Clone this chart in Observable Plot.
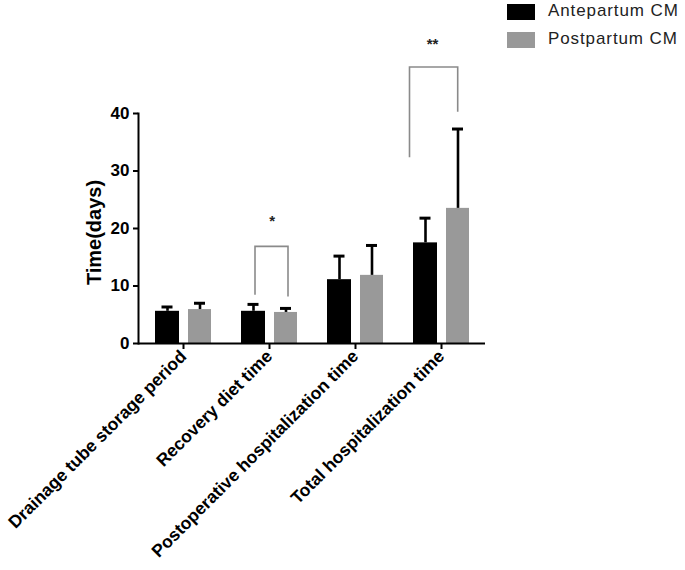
<!DOCTYPE html>
<html>
<head>
<meta charset="utf-8">
<script src="https://cdn.jsdelivr.net/npm/d3@7"></script>
<script src="https://cdn.jsdelivr.net/npm/@observablehq/plot@0.6"></script>
<style>
  html, body { margin: 0; padding: 0; background: #fff; }
  #wrap { position: relative; width: 685px; height: 570px; font-family: "Liberation Sans", Arial, sans-serif; }
  #legend { position: absolute; left: 507px; top: 4px; }
  .item { position: relative; height: 27.5px; }
  .sw { position: absolute; left: 0; top: 0; width: 28px; height: 16px; }
  .lab { position: absolute; left: 41px; top: -3px; font-size: 17px; color: #222; white-space: nowrap; letter-spacing: 0.9px; }
</style>
</head>
<body>
<div id="wrap">
  <div id="chart"></div>
  <div id="legend"></div>
</div>
<script>
const categories = ["Drainage tube storage period", "Recovery diet time", "Postoperative hospitalization time", "Total hospitalization time"];
const groups = ["Antepartum CM", "Postpartum CM"];
const antepartumMean = [5.6, 5.6, 11.1, 17.5];
const antepartumSD = [0.75, 1.2, 4.1, 4.3];
const postpartumMean = [5.9, 5.4, 11.85, 23.5];
const postpartumSD = [1.1, 0.7, 5.2, 13.8];
const yTicks = [0, 10, 20, 30, 40];
const bracketCats = ["Recovery diet time", "Total hospitalization time"];
const bracketTop = [16.8, 48.0];
const bracketLeftEnd = [8.4, 32.3];
const bracketRightEnd = [8.1, 40.2];
const bracketLabels = ["*", "**"];
const bracketLabelY = [21.9, 52.7];

const colors = ["#000000", "#999999"];

const ante = categories.map((c, i) => ({cat: c, mean: antepartumMean[i], top: antepartumMean[i] + antepartumSD[i]}));
const post = categories.map((c, i) => ({cat: c, mean: postpartumMean[i], top: postpartumMean[i] + postpartumSD[i]}));
const brackets = bracketCats.map((c, i) => ({cat: c, top: bracketTop[i], left: bracketLeftEnd[i], right: bracketRightEnd[i], label: bracketLabels[i], ly: bracketLabelY[i]}));

// styling offsets (px relative to category band centre)
const legOffsets = [[-14, 19], [-31.5, 16.7]];
const starDx = [2.6, -9];

function bracketMark(index, scales) {
  const x = scales.x, y = scales.y;
  const step = x(categories[1]) - x(categories[0]);
  const g = d3.create("svg:g").attr("fill", "none").attr("stroke", "#8a8a8a").attr("stroke-width", 1.6);
  brackets.forEach((b, i) => {
    const c = x(b.cat) + step / 2;
    const xl = c + legOffsets[i][0], xr = c + legOffsets[i][1];
    g.append("path").attr("d", `M${xl},${y(b.left)}V${y(b.top)}H${xr}V${y(b.right)}`);
  });
  return g.node();
}

const chart = Plot.plot({
  width: 685,
  height: 570,
  marginLeft: 138,
  marginRight: 200,
  marginTop: 113,
  marginBottom: 227,
  style: {fontFamily: "'Liberation Sans', Arial, sans-serif", color: "#000", background: "#fff"},
  x: {type: "band", domain: categories, padding: 0},
  y: {domain: [0, 40]},
  marks: [
    Plot.barY(ante, {x: "cat", y: "mean", fill: colors[0], insetLeft: 15, insetRight: 47}),
    Plot.barY(post, {x: "cat", y: "mean", fill: colors[1], insetLeft: 48, insetRight: 15}),
    Plot.ruleX(ante, {x: "cat", y1: "mean", y2: "top", dx: -16, stroke: "#000", strokeWidth: 2.6}),
    Plot.ruleX(post, {x: "cat", y1: "mean", y2: "top", dx: 16.5, stroke: "#000", strokeWidth: 2.6}),
    Plot.tickY(ante, {x: "cat", y: "top", insetLeft: 21.5, insetRight: 53.5, stroke: "#000", strokeWidth: 3}),
    Plot.tickY(post, {x: "cat", y: "top", insetLeft: 54, insetRight: 21, stroke: "#000", strokeWidth: 3}),
    bracketMark,
    ...brackets.map((b, i) => Plot.text([b], {x: "cat", y: "ly", text: "label", dx: starDx[i], dy: 3.5, fontSize: 15, fontWeight: "bold", fill: "#222"})),
    Plot.frame({anchor: "left", strokeWidth: 2}),
    Plot.ruleY([0], {strokeWidth: 2}),
    Plot.axisY({ticks: yTicks, tickSize: 5, tickPadding: 4, fontSize: 17, fontWeight: "bold", label: null, strokeWidth: 2}),
    Plot.text(["Time(days)"], {frameAnchor: "left", textAnchor: "middle", rotate: -90, dx: -44, dy: 4, fontSize: 20, fontWeight: "bold"}),
    Plot.axisX({tickRotate: -45, tickSize: 6, tickPadding: 4, fontSize: 17.5, fontWeight: "bold", label: null, strokeWidth: 2})
  ]
});
document.getElementById("chart").appendChild(chart);

const legend = document.getElementById("legend");
groups.forEach((g, i) => {
  const it = document.createElement("div");
  it.className = "item";
  it.innerHTML = `<div class="sw" style="background:${colors[i]}"></div><div class="lab">${g}</div>`;
  legend.appendChild(it);
});
</script>
</body>
</html>
